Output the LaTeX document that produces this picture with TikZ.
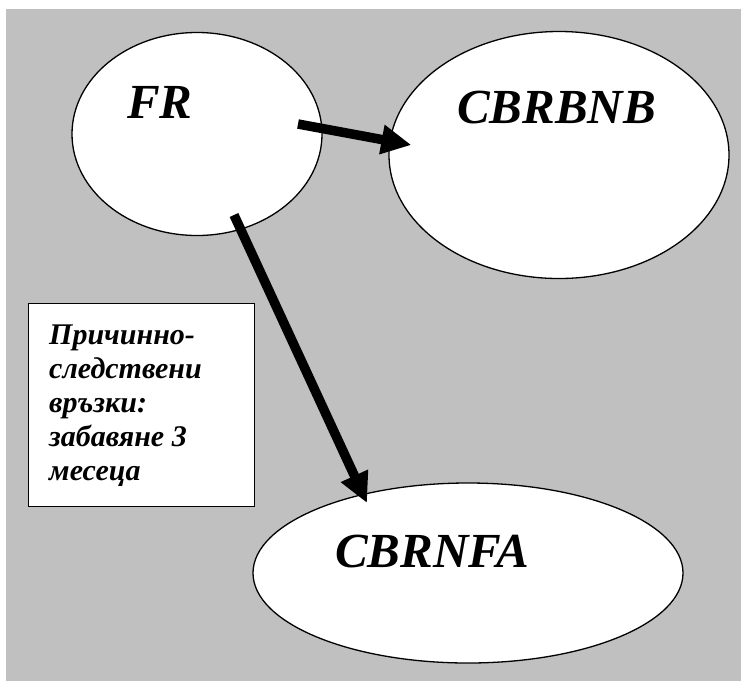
\documentclass[tikz,border=0pt]{standalone}
\usepackage{fontspec}
\setmainfont{Liberation Serif}
\usetikzlibrary{shapes.geometric,arrows.meta,calc}
\definecolor{panelgray}{HTML}{C0C0C0}
\tikzset{
  bubble/.style={ellipse, draw=black, line width=1.3pt, fill=white, inner sep=0pt},
  bigtitle/.style={font=\fontsize{49}{56}\selectfont\bfseries\itshape, inner sep=0pt, anchor=base west},
  flow/.style={line width=9.5pt, -{Triangle[length=30pt,width=28pt]}},
  notebox/.style={draw=black, line width=1.3pt, fill=white, inner sep=0pt,
    minimum width=226pt, minimum height=203pt, anchor=north west},
  notetext/.style={font=\fontsize{30}{34}\selectfont\bfseries\itshape, inner sep=0pt,
    align=left, anchor=north west},
}
\begin{document}
\begin{tikzpicture}[x=1pt,y=-1pt]
  \useasboundingbox (0,0) rectangle (741,681);
  \fill[white] (0,0) rectangle (741,681);
  \fill[panelgray] (6,9) rectangle (741,681);

  % the three ellipses
  \node[bubble, minimum width=250pt, minimum height=203pt] (fr) at (197,134) {};
  \node[bubble, minimum width=340pt, minimum height=247pt] (cbrbnb) at (559,155) {};
  \node[bubble, minimum width=430pt, minimum height=180pt] (cbrnfa) at (468,573) {};

  % their titles
  \node[bigtitle] (frt) at (127,118) {FR};
  \node[bigtitle] (cbrbnbt) at (457,123) {CBRBNB};
  \node[bigtitle] (cbrnfat) at (335,567) {CBRNFA};

  % note box
  \node[notebox] (note) at (28,303) {};
  \node[notetext] (notet) at ($(note.north west)+(21,22)$)
    {Причинно-\\следствени\\връзки:\\забавяне 3\\месеца};

  % arrows
  \draw[flow] ($(fr.center)+(101,-10)$) -- ($(cbrbnb.west)+(23,-10)$);
  \draw[flow] ($(fr.center)+(37,81)$) -- ($(cbrnfa.center)+(-101,-70)$);
\end{tikzpicture}
\end{document}
